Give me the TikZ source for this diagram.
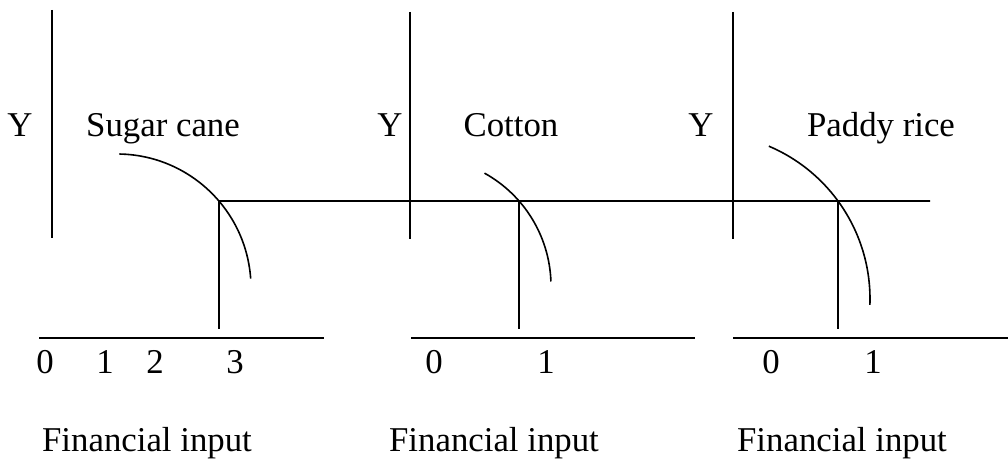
\documentclass[tikz,border=0pt]{standalone}
\usepackage{fontspec}
\setmainfont{Liberation Serif}
\usetikzlibrary{positioning}
\tikzset{
    axis/.style={line width=0.8pt},
    curve/.style={line width=0.8pt},
    lbl/.style={anchor=base,inner sep=0pt,font=\fontsize{17.4}{20}\selectfont},
}

\begin{document}
\begin{tikzpicture}[x=0.5pt,y=0.5pt]
    \useasboundingbox (0,0) rectangle (1008,461);

    % centres of the three curves
    \coordinate (csugar) at (117,173);
    \coordinate (ccotton) at (422,175);
    \coordinate (crice) at (704,162);

    % points where the curves meet the level line
    \coordinate (psugar) at ([shift={(40.5:134)}]csugar);
    \coordinate (pcotton) at ([shift={(41.2:129)}]ccotton);
    \coordinate (price) at ([shift={(36.2:166)}]crice);
    \coordinate (lend) at (930,260);

    % sugar cane
    \coordinate (ysugartop) at (52,451);
    \coordinate (ysugarbot) at (52,223);
    \coordinate (xsugarl) at (39,123);
    \coordinate (xsugarr) at (324,123);
    \draw[axis] (ysugartop) -- (ysugarbot);
    \draw[axis] (xsugarl) -- (xsugarr);
    \draw[curve] ([shift={(89:134)}]csugar) arc[start angle=89,end angle=4,radius=134];
    \draw[axis] (psugar) -- (psugar |- 0,132);
    \node[lbl] (ysugar) at (20,324) {Y};
    \node[lbl] (sugar) at (163,324) {Sugar cane};
    \node[lbl] (s0) at (45,87) {0};
    \node[lbl] (s1) at (105,87) {1};
    \node[lbl] (s2) at (155,87) {2};
    \node[lbl] (s3) at (235,87) {3};
    \node[lbl] (fsugar) at (147,10) {Financial input};

    % cotton
    \coordinate (ycottontop) at (410,449);
    \coordinate (ycottonbot) at (410,222);
    \coordinate (xcottonl) at (411,123);
    \coordinate (xcottonr) at (695,123);
    \draw[axis] (ycottontop) -- (ycottonbot);
    \draw[axis] (xcottonl) -- (xcottonr);
    \draw[curve] ([shift={(61:129)}]ccotton) arc[start angle=61,end angle=2,radius=129];
    \draw[axis] (pcotton) -- (pcotton |- 0,132);
    \node[lbl] (ycotton) at (390,324) {Y};
    \node[lbl] (cotton) at (511,324) {Cotton};
    \node[lbl] (c0) at (434,87) {0};
    \node[lbl] (c1) at (546,87) {1};
    \node[lbl] (fcotton) at (494,10) {Financial input};

    % paddy rice
    \coordinate (yricetop) at (733,449);
    \coordinate (yricebot) at (733,222);
    \coordinate (xricel) at (733,123);
    \coordinate (xricer) at (1008,123);
    \draw[axis] (yricetop) -- (yricebot);
    \draw[axis] (xricel) -- (xricer);
    \draw[curve] ([shift={(67:166)}]crice) arc[start angle=67,end angle=-2,radius=166];
    \draw[axis] (price) -- (price |- 0,132);
    \node[lbl] (yrice) at (701,324) {Y};
    \node[lbl] (rice) at (881,324) {Paddy rice};
    \node[lbl] (r0) at (771,87) {0};
    \node[lbl] (r1) at (873,87) {1};
    \node[lbl] (frice) at (842,10) {Financial input};

    % common level line
    \draw[axis] (psugar) -- (lend);
\end{tikzpicture}
\end{document}
